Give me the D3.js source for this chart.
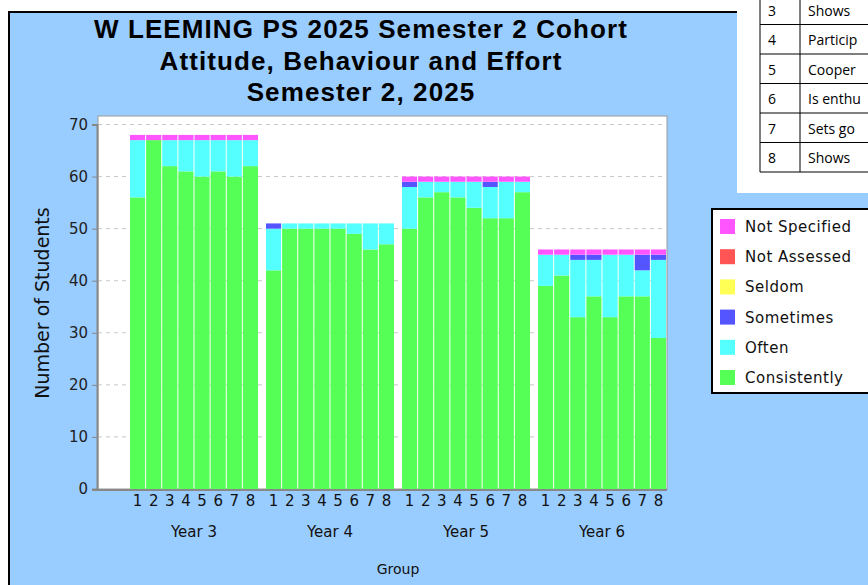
<!DOCTYPE html>
<html>
<head>
<meta charset="utf-8">
<script src="https://d3js.org/d3.v7.min.js"></script>
<style type="text/css">
  body { margin: 0; background: #fff; }
  svg { display: block; }
  text { font-family: "DejaVu Sans", sans-serif; }
</style>
</head>
<body>
<svg id="chart" width="868" height="585"></svg>
<script>

// data
const groups = ['Year 3', 'Year 4', 'Year 5', 'Year 6'];
const items = ['1', '2', '3', '4', '5', '6', '7', '8'];
const seriesNames = ['Consistently', 'Often', 'Sometimes', 'Seldom', 'Not Assessed', 'Not Specified'];
const seriesColors = ['#55ff55', '#55ffff', '#5555ff', '#ffff55', '#ff5555', '#ff55ff'];

const consistently = [
  56, 67, 62, 61, 60, 61, 60, 62,
  42, 50, 50, 50, 50, 49, 46, 47,
  50, 56, 57, 56, 54, 52, 52, 57,
  39, 41, 33, 37, 33, 37, 37, 29,
];
const often = [
  11, 0, 5, 6, 7, 6, 7, 5,
  8, 1, 1, 1, 1, 2, 5, 4,
  8, 3, 2, 3, 5, 6, 7, 2,
  6, 4, 11, 7, 12, 8, 5, 15,
];
const sometimes = [
  0, 0, 0, 0, 0, 0, 0, 0,
  1, 0, 0, 0, 0, 0, 0, 0,
  1, 0, 0, 0, 0, 1, 0, 0,
  0, 0, 1, 1, 0, 0, 3, 1,
];
const seldom = [
  0, 0, 0, 0, 0, 0, 0, 0,
  0, 0, 0, 0, 0, 0, 0, 0,
  0, 0, 0, 0, 0, 0, 0, 0,
  0, 0, 0, 0, 0, 0, 0, 0,
];
const notAssessed = [
  0, 0, 0, 0, 0, 0, 0, 0,
  0, 0, 0, 0, 0, 0, 0, 0,
  0, 0, 0, 0, 0, 0, 0, 0,
  0, 0, 0, 0, 0, 0, 0, 0,
];
const notSpecified = [
  1, 1, 1, 1, 1, 1, 1, 1,
  0, 0, 0, 0, 0, 0, 0, 0,
  1, 1, 1, 1, 1, 1, 1, 1,
  1, 1, 1, 1, 1, 1, 1, 1,
];
const yTicks = [0, 10, 20, 30, 40, 50, 60, 70];
const titleLines = ['W LEEMING PS 2025 Semester 2 Cohort', 'Attitude, Behaviour and Effort', 'Semester 2, 2025'];
const tableNums = ['3', '4', '5', '6', '7', '8'];
const tableTexts = ['Shows', 'Particip', 'Cooper', 'Is enthu', 'Sets go', 'Shows'];

const seriesValues = [consistently, often, sometimes, seldom, notAssessed, notSpecified];

const rows = [];
groups.forEach((g, gi) => {
  items.forEach((it, ii) => {
    const row = { group: g, item: it };
    seriesNames.forEach((s, si) => { row[s] = seriesValues[si][gi * items.length + ii]; });
    rows.push(row);
  });
});

const chart = d3.select('#chart');

// blue panel
chart.append('rect')
  .attr('x', 9).attr('y', 12)
  .attr('width', 900).attr('height', 600)
  .attr('fill', '#99ccff')
  .attr('stroke', '#000')
  .attr('stroke-width', 2);

// title
chart.append('g').selectAll('text')
  .data(titleLines)
  .join('text')
  .attr('x', 361)
  .attr('y', (d, i) => 38 + i * 31.5)
  .attr('text-anchor', 'middle')
  .style('font-family', '"Liberation Sans", Arial, sans-serif')
  .style('font-weight', 'bold')
  .style('font-size', '26px')
  .style('letter-spacing', '1.1px')
  .text(d => d);

const plot = { left: 98, right: 667, top: 116, bottom: 489 };

const y = d3.scaleLinear().domain([0, 70]).range([489, 124.5]);
const xGroup = d3.scaleBand().domain(groups).range([130, 666]).paddingInner(8 / 136);
const xItem = d3.scaleBand().domain(items).range([0, xGroup.bandwidth()]).paddingInner(0.06);

// plot background
chart.append('rect')
  .attr('x', plot.left).attr('y', plot.top)
  .attr('width', plot.right - plot.left).attr('height', plot.bottom - plot.top)
  .attr('fill', '#fff')
  .attr('stroke', '#999')
  .attr('stroke-width', 1);

// gridlines
chart.append('g').selectAll('line')
  .data(yTicks.slice(1))
  .join('line')
  .attr('x1', plot.left).attr('x2', plot.right)
  .attr('y1', d => y(d)).attr('y2', d => y(d))
  .attr('stroke', '#c8c8c8')
  .attr('stroke-dasharray', '4,4');

// stacked bars
const stacked = d3.stack().keys(seriesNames)(rows);

chart.append('g').selectAll('g')
  .data(stacked)
  .join('g')
  .attr('fill', (d, i) => seriesColors[i])
  .selectAll('rect')
  .data(d => d.filter(p => p[1] > p[0]))
  .join('rect')
  .attr('x', d => xGroup(d.data.group) + xItem(d.data.item))
  .attr('width', xItem.bandwidth())
  .attr('y', d => y(d[1]))
  .attr('height', d => y(d[0]) - y(d[1]));

// y axis
const yAxis = chart.append('g')
  .attr('transform', `translate(${plot.left - 1} 0)`)
  .call(d3.axisLeft(y).tickValues(yTicks).tickSize(5).tickPadding(4));
yAxis.select('.domain').attr('stroke', '#888').attr('stroke-width', 2);
yAxis.selectAll('.tick line').attr('stroke', '#888');
yAxis.selectAll('.tick text')
  .style('font-family', '"DejaVu Sans", sans-serif')
  .style('font-size', '15px')
  .attr('fill', '#222');

// x axis line
chart.append('line')
  .attr('x1', plot.left - 6).attr('x2', plot.right)
  .attr('y1', plot.bottom + 1).attr('y2', plot.bottom + 1)
  .attr('stroke', '#888')
  .attr('stroke-width', 2);

// item labels and group labels
const xLabels = chart.append('g');
groups.forEach(g => {
  xLabels.append('g').selectAll('text')
    .data(items)
    .join('text')
    .attr('x', d => xGroup(g) + xItem(d) + xItem.bandwidth() / 2)
    .attr('y', 506)
    .attr('text-anchor', 'middle')
    .style('font-size', '15px')
    .attr('fill', '#111')
    .text(d => d);
});
xLabels.append('g').selectAll('text')
  .data(groups)
  .join('text')
  .attr('x', d => xGroup(d) + xGroup.bandwidth() / 2)
  .attr('y', 537)
  .attr('text-anchor', 'middle')
  .style('font-size', '15px')
  .attr('fill', '#111')
  .text(d => d);

chart.append('text')
  .attr('x', 398).attr('y', 574)
  .attr('text-anchor', 'middle')
  .style('font-size', '14px')
  .attr('fill', '#111')
  .text('Group');

chart.append('text')
  .attr('transform', 'translate(49 303) rotate(-90)')
  .attr('text-anchor', 'middle')
  .style('font-size', '19px')
  .attr('fill', '#111')
  .text('Number of Students');

// legend
const legend = chart.append('g');
legend.append('rect')
  .attr('x', 712).attr('y', 209)
  .attr('width', 200).attr('height', 184)
  .attr('fill', '#fff')
  .attr('stroke', '#000')
  .attr('stroke-width', 2);
const legendOrder = seriesNames.slice().reverse();
const legendItems = legend.selectAll('g.item')
  .data(legendOrder)
  .join('g')
  .attr('class', 'item')
  .attr('transform', (d, i) => `translate(0 ${226 + i * 30.2})`);
legendItems.append('rect')
  .attr('x', 720).attr('y', -7)
  .attr('width', 15).attr('height', 15)
  .attr('fill', d => seriesColors[seriesNames.indexOf(d)]);
legendItems.append('text')
  .attr('x', 745).attr('y', 6)
  .style('font-size', '15px')
  .style('letter-spacing', '0.5px')
  .attr('fill', '#111')
  .text(d => d);

// description table, top right
const table = chart.append('g');
table.append('rect')
  .attr('x', 737).attr('y', 0)
  .attr('width', 131).attr('height', 193)
  .attr('fill', '#fff');
const rowTop = -5;
const rowH = 29.5;
table.selectAll('line.h')
  .data(d3.range(tableNums.length + 1))
  .join('line')
  .attr('class', 'h')
  .attr('x1', 760).attr('x2', 868)
  .attr('y1', d => rowTop + d * rowH).attr('y2', d => rowTop + d * rowH)
  .attr('stroke', '#000');
[760, 800].forEach(xv => {
  table.append('line')
    .attr('x1', xv).attr('x2', xv)
    .attr('y1', 0).attr('y2', rowTop + tableNums.length * rowH)
    .attr('stroke', '#000');
});
table.selectAll('text.num')
  .data(tableNums)
  .join('text')
  .attr('class', 'num')
  .attr('x', 768)
  .attr('y', (d, i) => rowTop + i * rowH + rowH / 2 + 6)
  .style('font-family', '"Open Sans", "Noto Sans", sans-serif')
  .style('font-size', '14px')
  .text(d => d);
table.selectAll('text.desc')
  .data(tableTexts)
  .join('text')
  .attr('class', 'desc')
  .attr('x', 808)
  .attr('y', (d, i) => rowTop + i * rowH + rowH / 2 + 6)
  .style('font-family', '"Open Sans", "Noto Sans", sans-serif')
  .style('font-size', '14px')
  .text(d => d);

</script>
</body>
</html>
